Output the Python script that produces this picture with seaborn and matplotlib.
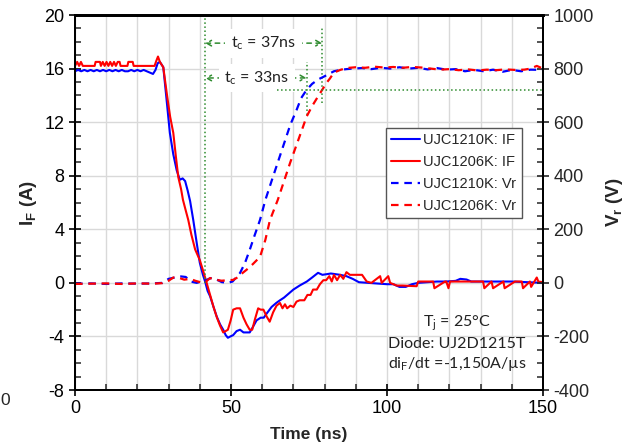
import matplotlib
matplotlib.use("Agg")
import matplotlib.pyplot as plt
from matplotlib.lines import Line2D
from matplotlib.ticker import MultipleLocator
import seaborn as sns

# Courant direct IF (A) - UJC1210K
t_if_1210 = [0, 1, 2, 3, 4, 5, 6, 7, 8, 9, 10, 11, 12, 13, 14, 15, 16, 17, 18, 19,
             20, 21, 22, 23, 24, 25, 25.8, 26.5, 27.2, 28.3, 29.3, 30.4, 31.5, 32.6,
             33.6, 34.5, 35.3, 36.1, 36.9, 37.9, 39, 40, 41, 41.7, 42.5, 43.3, 44.4,
             45.4, 46.5, 47.5, 48.3, 49, 49.8, 50.7, 51.8, 52.9, 54, 55, 56, 57, 58.2,
             59.5, 60.5, 61.4, 63, 64.5, 65.7, 67, 68.5, 70, 72, 74.3, 76, 77.9, 79.3,
             80.7, 82, 83.5, 85, 87, 89, 91, 94, 97, 100, 102, 104, 106, 108, 110, 113,
             116, 119, 122, 123.5, 125.5, 127, 130, 135, 140, 145, 150]
if_1210 = [15.8, 15.9, 15.8, 15.9, 15.8, 15.9, 15.8, 15.9, 15.8, 15.9, 15.8, 15.9,
           15.8, 15.9, 15.8, 15.9, 15.8, 15.8, 15.9, 15.8, 15.9, 15.8, 15.9, 15.8,
           15.7, 15.6, 15.9, 16.4, 16.5, 16.1, 13.8, 11.2, 9.6, 8.4, 7.7, 7.8, 7.6,
           6.9, 6.1, 4.7, 3.0, 1.5, 0.6, 0.1, -0.6, -1.0, -1.8, -2.5, -3.1, -3.5,
           -3.9, -4.1, -4.0, -3.9, -3.6, -3.5, -3.7, -3.7, -3.7, -3.3, -2.8, -2.6,
           -2.6, -2.3, -1.8, -1.5, -1.3, -1.1, -0.8, -0.5, -0.2, 0.1, 0.4, 0.75, 0.6,
           0.65, 0.7, 0.65, 0.6, 0.5, 0.3, 0.05, 0.0, -0.05, -0.1, -0.1, -0.3, -0.3,
           -0.1, 0.0, 0.05, 0.1, 0.1, 0.15, 0.3, 0.25, 0.1, 0.1, 0.1, 0.1, 0.05, 0.0]

# Courant direct IF (A) - UJC1206K
t_if_1206 = [0, 0.7, 1.3, 1.9, 2.5, 6.3, 6.6, 8, 8.3, 8.9, 9.5, 10.1, 10.7, 11.3,
             11.9, 12.5, 13.1, 13.7, 14.3, 14.6, 16.8, 17.1, 18.5, 18.8, 25.5, 26.1,
             26.6, 27.2, 28.3, 29.5, 30.5, 31.5, 32.3, 33.1, 34, 34.6, 35.5, 36.3,
             37.3, 38.5, 40, 41.2, 42.2, 43.3, 44.4, 45.5, 46.5, 47.5, 48.3, 49, 49.9,
             50.7, 51.8, 52.9, 54, 55, 56, 56.8, 57.7, 58.7, 59.5, 60.4, 61.4, 62.4,
             63.5, 64.6, 65.7, 66.5, 67.3, 68, 69, 70, 71, 72, 73.5, 74.5, 75.5, 76.3,
             77.5, 78.5, 79.6, 80.5, 81.5, 82.3, 83, 84, 85, 86, 87, 88.1, 90, 92,
             93.5, 95, 97.8, 98.3, 100.4, 101, 103.1, 105, 109.5, 110, 112.7, 114.8,
             115.2, 118.6, 119, 119.7, 120.2, 125, 130.8, 131.2, 133.5, 134, 137.3,
             137.7, 141, 143.2, 143.6, 145.8, 146.2, 148, 148.5, 150]
if_1206 = [16.2, 16.5, 16.2, 16.5, 16.2, 16.2, 16.5, 16.5, 16.2, 16.5, 16.2, 16.5,
           16.2, 16.5, 16.2, 16.5, 16.2, 16.5, 16.5, 16.2, 16.2, 16.5, 16.5, 16.2,
           16.2, 16.6, 16.9, 16.5, 16.1, 14.0, 12.4, 11.2, 9.5, 7.9, 7.0, 6.2, 5.4,
           4.7, 3.6, 2.5, 1.7, 0.8, 0.0, -0.9, -1.8, -2.6, -3.2, -3.7, -3.6, -3.5,
           -2.8, -2.0, -1.9, -1.9, -2.6, -3.1, -3.5, -3.5, -2.7, -1.9, -2.0, -2.0,
           -2.5, -2.9, -2.2, -1.7, -1.5, -1.9, -1.6, -1.9, -1.7, -1.8, -1.4, -1.3,
           -1.3, -0.9, -0.9, -0.5, -0.5, -0.1, 0.2, 0.2, 0.5, 0.1, 0.6, 0.2, 0.6,
           0.3, 0.8, 0.6, 0.6, 0.6, 0.1, 0.0, 0.5, 0.0, 0.5, 0.0, -0.2, -0.2, -0.25,
           0.1, 0.1, 0.1, -0.4, 0.1, 0.1, -0.4, 0.1, 0.1, 0.1, -0.4, 0.1, -0.4, 0.1,
           -0.4, 0.1, 0.1, -0.4, 0.1, -0.3, 0.4, 0.1, 0.05]

# Tension inverse Vr (V) - UJC1210K
t_vr_1210 = [0, 5, 10, 15, 20, 25, 28, 30, 32, 34, 35.5, 37, 39, 40.5, 42, 43.5, 45,
             47, 49, 50.5, 51.5, 52.9, 54.5, 56, 57.5, 59.3, 61, 63, 65, 67, 69, 71,
             72.5, 74.2, 76, 78, 79.6, 81.7, 83, 85, 87, 89, 92, 95, 98, 101, 104, 107,
             110, 113, 116, 119, 122, 125, 128, 131, 134, 137, 140, 143, 146, 150]
vr_1210 = [-3, -2, -4, -2, -3, -2, 0, 15, 20, 24, 22, 5, 0, 5, 10, 18, 15, 3, 0, 5,
           18, 37, 75, 123, 175, 235, 309, 380, 450, 520, 590, 645, 690, 720, 743,
           760, 769, 782, 790, 795, 798, 800, 802, 798, 803, 800, 805, 800, 803, 797,
           802, 796, 798, 790, 795, 790, 796, 788, 795, 790, 796, 795]

# Tension inverse Vr (V) - UJC1206K
t_vr_1206 = [0, 5, 10, 15, 20, 25, 28, 30, 31.5, 33.5, 35, 37, 38.5, 40, 41, 42,
             43.3, 44.5, 45.4, 47, 49, 50.7, 52, 53.5, 55, 57, 59.3, 61, 62.5, 65, 67,
             69, 71, 73, 74.2, 76, 78, 79.2, 80.5, 81.7, 83, 85, 87, 90, 93, 96, 99,
             102, 105, 108, 111, 114, 117, 120, 123, 126, 129, 132, 135, 138, 141,
             144, 146, 148, 150]
vr_1206 = [-4, -3, -2, -4, -2, -3, -1, 8, 20, 18, 12, 15, 8, 3, 0, 5, 18, 12, 11, 8,
           10, 11, 20, 35, 49, 70, 97, 160, 235, 310, 380, 450, 515, 580, 620, 660,
           698, 720, 745, 763, 785, 795, 802, 805, 803, 807, 804, 806, 803, 806, 804,
           800, 796, 798, 794, 797, 793, 796, 794, 797, 795, 796, 800, 810, 800]

legend_labels = ["UJC1210K: IF", "UJC1206K: IF", "UJC1210K: Vr", "UJC1206K: Vr"]

BLUE = "#0000ff"
RED = "#ff0000"
GREEN = "#2e8b2e"

sns.set_style("white")
plt.rcParams["font.family"] = ["Liberation Sans", "DejaVu Sans"]
plt.rcParams["mathtext.fontset"] = "custom"
plt.rcParams["mathtext.rm"] = "Liberation Sans"
plt.rcParams["mathtext.bf"] = "Liberation Sans:bold"
plt.rcParams["axes.unicode_minus"] = False

fig = plt.figure(figsize=(6.25, 4.47), dpi=100)
ax = fig.add_axes([0.12, 0.1275, 0.7488, 0.8389])
ax2 = ax.twinx()

# grille
ax.set_axisbelow(True)
ax.grid(True, axis="x", which="both", color="#d9d9d9", lw=1)
ax.grid(True, axis="y", which="major", color="#d9d9d9", lw=1)

# courants
sns.lineplot(x=t_if_1210, y=if_1210, ax=ax, color=BLUE, lw=1.5, estimator=None)
sns.lineplot(x=t_if_1206, y=if_1206, ax=ax, color=RED, lw=1.5, estimator=None)

# tensions
dash = (0, (3.4, 2.6))
sns.lineplot(x=t_vr_1210, y=vr_1210, ax=ax2, color=BLUE, lw=1.6, estimator=None,
             linestyle=dash)
sns.lineplot(x=t_vr_1206, y=vr_1206, ax=ax2, color=RED, lw=1.6, estimator=None,
             linestyle=dash)

# repères tc
ax.plot([41.7, 41.7], [0, 20], color=GREEN, ls=":", lw=1.1)
ax.plot([79.2, 79.2], [13.4, 19.1], color=GREEN, ls=":", lw=1.1)
ax.plot([74.2, 74.2], [12.5, 16.5], color=GREEN, ls=":", lw=1.1)
ax2.plot([64.7, 150], [720, 720], color=GREEN, ls=":", lw=1.1)

for x_end, y_pos, x_txt, txt in [(79.2, 17.9, 60.4, "37ns"), (74.2, 15.3, 58.3, "33ns")]:
    ax.annotate("", xy=(41.7, y_pos), xytext=(x_end, y_pos),
                arrowprops=dict(arrowstyle="<->,head_length=0.35,head_width=0.2",
                                color=GREEN, ls=(0, (3, 3)), lw=1.1,
                                shrinkA=0, shrinkB=0))
    ax.text(x_txt, y_pos, "t$_\\mathregular{c}$ = " + txt, ha="center", va="center",
            fontsize=11.5, family="Lato", color="#222222",
            bbox=dict(facecolor="white", edgecolor="none", pad=4))

# axes
ax.set_xlim(0, 150)
ax.set_ylim(-8, 20)
ax2.set_ylim(-400, 1000)
ax.xaxis.set_major_locator(MultipleLocator(50))
ax.xaxis.set_minor_locator(MultipleLocator(10))
ax.yaxis.set_major_locator(MultipleLocator(4))
ax.yaxis.set_minor_locator(MultipleLocator(1))
ax2.yaxis.set_major_locator(MultipleLocator(200))
ax2.yaxis.set_minor_locator(MultipleLocator(50))

ax.tick_params(axis="both", which="major", direction="inout", length=9, width=1.2,
               labelsize=13, pad=3, colors="black")
ax.tick_params(axis="both", which="minor", direction="in", length=4, width=1.1)
ax.tick_params(axis="y", which="both", left=True, right=False)
ax.tick_params(axis="x", which="both", bottom=True, top=False)
ax2.tick_params(axis="y", which="major", direction="inout", length=9, width=1.2,
                labelsize=13, pad=3, right=True)
ax2.tick_params(axis="y", which="minor", direction="in", length=4, width=1.1, right=True)

for a in (ax, ax2):
    for s in a.spines.values():
        s.set_color("black")
        s.set_linewidth(1.4)
    a.spines["top"].set_linewidth(2)

ax.set_xlabel("Time (ns)", fontsize=12.5, fontweight="bold", labelpad=7)
ax.set_ylabel("I$_\\mathbf{F}$ (A)", fontsize=13.5, fontweight="bold", labelpad=4)
ax2.set_ylabel("V$_\\mathbf{r}$ (V)", fontsize=13.5, fontweight="bold", labelpad=7)

# légende
handles = [Line2D([], [], color=BLUE, lw=1.5),
           Line2D([], [], color=RED, lw=1.5),
           Line2D([], [], color=BLUE, lw=1.6, ls=dash),
           Line2D([], [], color=RED, lw=1.6, ls=dash)]
leg = ax2.legend(handles, legend_labels, loc="upper left", bbox_to_anchor=(0.665, 0.70),
                 fontsize=10.5, frameon=True, fancybox=False, framealpha=1,
                 handlelength=2.0, handletextpad=0.2, borderpad=0.35,
                 labelspacing=0.55, borderaxespad=0)
leg.get_frame().set_edgecolor("#555555")
leg.get_frame().set_linewidth(1)

# conditions de test
ax.text(122.4, -4.5, "T$_\\mathregular{j}$ = 25°C\nDiode: UJ2D1215T\n"
        "di$_\\mathregular{F}$/dt =-1,150A/µs",
        ha="center", va="center", fontsize=11.5, family="Lato", color="#222222",
        linespacing=1.3)

# reste de label au bord gauche
fig.text(0.001, 0.103, "0", fontsize=12.5, ha="left", va="center")

fig.savefig("out.png", dpi=100)
